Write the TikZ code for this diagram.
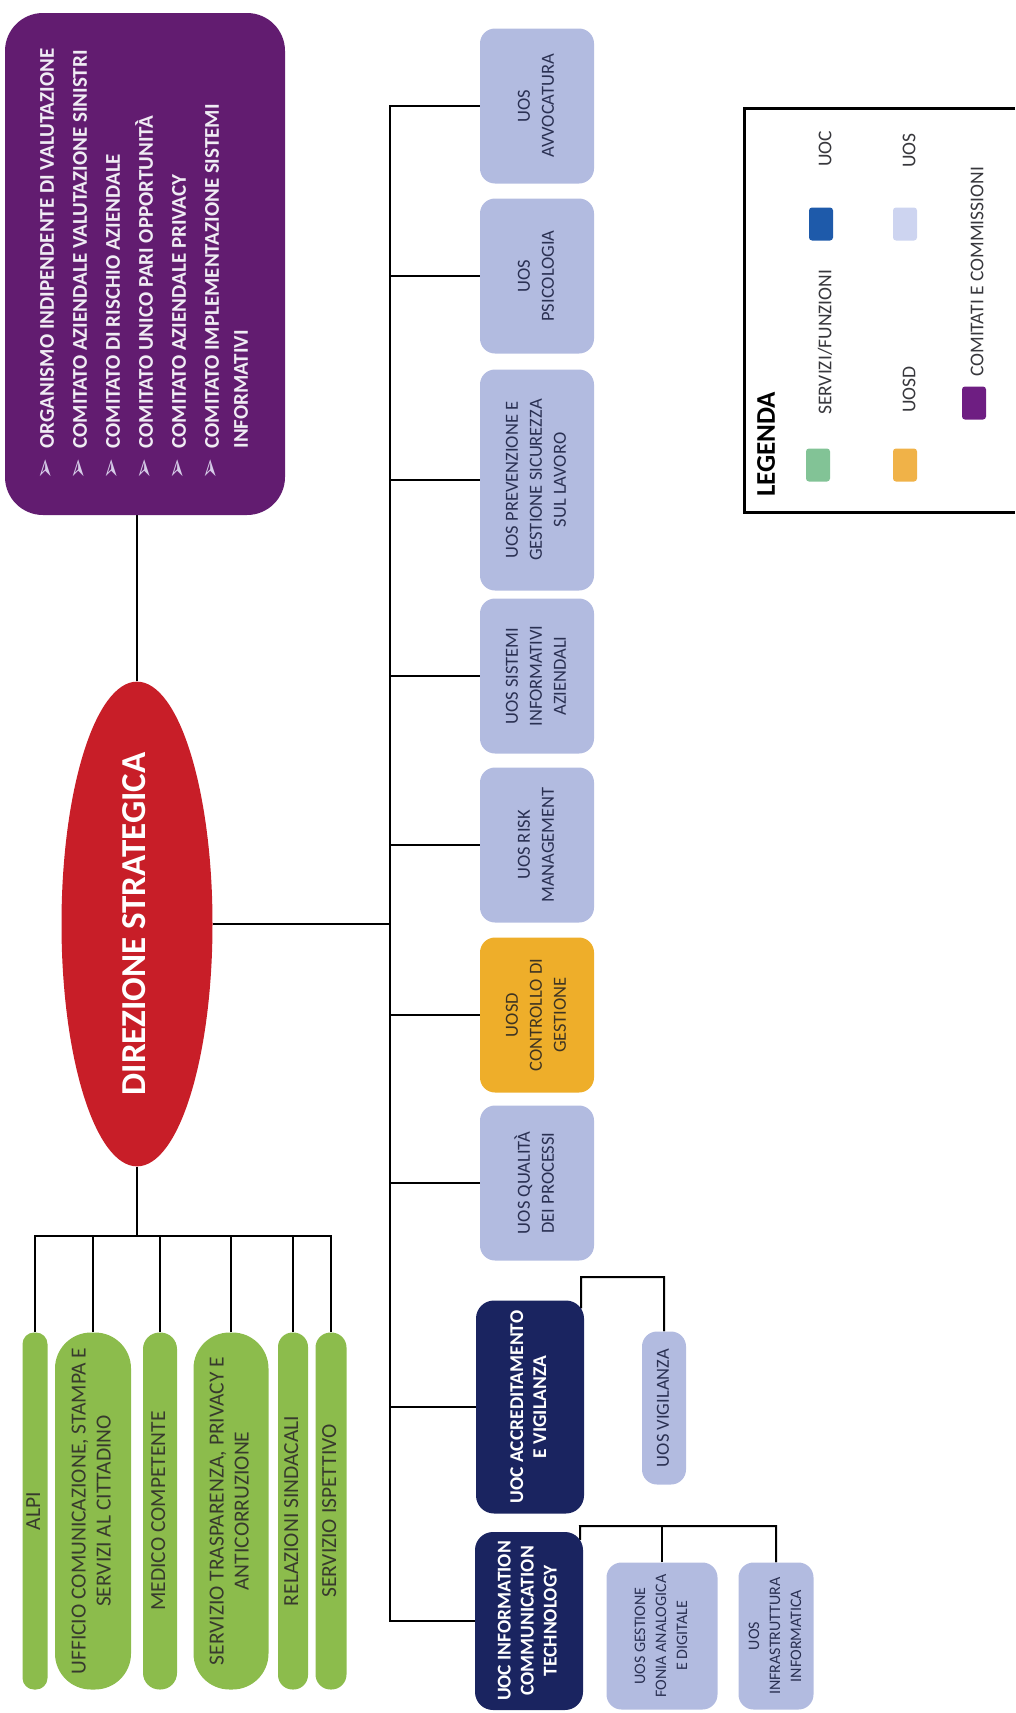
\documentclass[tikz,border=0pt]{standalone}
\usepackage{fontspec}
\setmainfont{Carlito}
\newfontfamily\symfont{DejaVu Sans}
\usepackage{graphicx}
\usetikzlibrary{positioning,shapes.geometric,backgrounds}

\definecolor{comvio}{RGB}{98,28,112}
\definecolor{comtxt}{RGB}{240,236,244}
\definecolor{bulcol}{RGB}{214,204,232}
\definecolor{dirred}{RGB}{200,30,40}
\definecolor{srvgreen}{RGB}{140,188,76}
\definecolor{gtxt}{RGB}{55,58,45}
\definecolor{uoslil}{RGB}{178,187,224}
\definecolor{uostxt}{RGB}{42,48,82}
\definecolor{uosdor}{RGB}{238,174,42}
\definecolor{uosdtxt}{RGB}{62,52,34}
\definecolor{uocnavy}{RGB}{26,36,96}
\definecolor{leggreen}{RGB}{130,195,150}
\definecolor{legblue}{RGB}{30,90,170}
\definecolor{legorange}{RGB}{240,178,72}
\definecolor{leglil}{RGB}{205,212,240}
\definecolor{legvio}{RGB}{110,30,130}
\definecolor{legtxt}{RGB}{55,55,60}

\newcommand{\vt}[1]{\rotatebox{90}{\begin{tabular}{@{}c@{}}#1\end{tabular}}}
\newcommand{\bul}{{\normalfont\symfont\fontsize{25}{25}\selectfont\color{bulcol}➢}}

\begin{document}
\begin{tikzpicture}[x=1pt, y=-1pt,
  conn/.style={line width=2.6pt},
  conn2/.style={line width=2pt},
  com/.style={rectangle, rounded corners=38pt, fill=comvio, inner sep=0pt, minimum width=280, minimum height=502, text=comtxt, font=\bfseries\fontsize{21}{29}\selectfont},
  dirs/.style={ellipse, fill=dirred, inner sep=0pt, minimum width=151, minimum height=478, text=white, font=\bfseries\fontsize{35}{40}\selectfont},
  gbar/.style={rectangle, rounded corners=#1, fill=srvgreen, inner sep=0pt, minimum height=357, text=gtxt, font=\fontsize{21.5}{25}\selectfont},
  gbar/.default=12pt,
  uos/.style={rectangle, rounded corners=15pt, fill=uoslil, inner sep=0pt, minimum width=114, minimum height=155, text=uostxt, font=\fontsize{18.5}{24}\selectfont},
  uosd/.style={uos, fill=uosdor, text=uosdtxt},
  uoc/.style={rectangle, rounded corners=18pt, fill=uocnavy, inner sep=0pt, minimum width=108, text=white, font=\bfseries\fontsize{19.5}{23}\selectfont},
  legsw/.style={rectangle, rounded corners=3pt, inner sep=0pt, minimum width=24, minimum height=33},
  leglab/.style={inner sep=0pt, anchor=south, text=legtxt, font=\fontsize{19.5}{22}\selectfont}]

\useasboundingbox (0,0) rectangle (1015,1713);

  % Define comitati and direzione
\node[com] (com) at (145,264) {\rotatebox{90}{\begin{tabular}{@{}l@{\hspace{10pt}}l@{}}
  \bul & ORGANISMO INDIPENDENTE DI VALUTAZIONE\\[4pt]
  \bul & COMITATO AZIENDALE VALUTAZIONE SINISTRI\\[4pt]
  \bul & COMITATO DI RISCHIO AZIENDALE\\[4pt]
  \bul & COMITATO UNICO PARI OPPORTUNITÀ\\[4pt]
  \bul & COMITATO AZIENDALE PRIVACY\\[4pt]
  \bul & COMITATO IMPLEMENTAZIONE SISTEMI\\
       & INFORMATIVI
\end{tabular}}};
\node[dirs] (dir) at (137,924) {\vt{DIREZIONE STRATEGICA}};

  % Define servizi / funzioni
\node[gbar=11.5pt, minimum width=24] (alpi) at (35,1511) {\vt{ALPI}}; \node[gbar=36pt, minimum width=76] (uff) at (93,1511) {\vt{UFFICIO COMUNICAZIONE, STAMPA E\\SERVIZI AL CITTADINO}}; \node[gbar=16.5pt, minimum width=34] (med) at (160,1511) {\vt{MEDICO COMPETENTE}};
\node[gbar=36pt, minimum width=75] (tra) at (231,1511) {\vt{SERVIZIO TRASPARENZA, PRIVACY E\\ANTICORRUZIONE}}; \node[gbar=14.5pt, minimum width=30] (rel) at (293,1511) {\vt{RELAZIONI SINDACALI}}; \node[gbar=15pt, minimum width=31] (isp) at (331,1511) {\vt{SERVIZIO ISPETTIVO}};

  % Define unita operative
\node[uos] (avv) at (537,106) {\vt{UOS\\AVVOCATURA}}; \node[uos] (psi) at (537,276) {\vt{UOS\\PSICOLOGIA}}; \node[uos, minimum height=221] (prev) at (537,480) {\vt{UOS PREVENZIONE E\\GESTIONE SICUREZZA\\SUL LAVORO}};
\node[uos] (sis) at (537,676) {\vt{UOS SISTEMI\\INFORMATIVI\\AZIENDALI}}; \node[uos] (risk) at (537,845) {\vt{UOS RISK\\MANAGEMENT}}; \node[uosd] (uosd) at (537,1015) {\vt{UOSD\\CONTROLLO DI\\GESTIONE}};
\node[uos] (qual) at (537,1183) {\vt{UOS QUALITÀ\\DEI PROCESSI}}; \node[uoc, minimum height=213] (acc) at (530,1407) {\vt{UOC ACCREDITAMENTO\\E VIGILANZA}}; \node[uoc, minimum height=178] (ict) at (529,1621) {\vt{UOC INFORMATION\\COMMUNICATION\\TECHNOLOGY}};
\node[uos, minimum width=44, minimum height=153] (vig) at (664,1408) {\vt{UOS VIGILANZA}}; \node[uos, minimum width=111, minimum height=147, font=\fontsize{16}{21}\selectfont] (fon) at (662,1636) {\vt{UOS GESTIONE\\FONIA ANALOGICA\\E DIGITALE}}; \node[uos, minimum width=75, minimum height=147, font=\fontsize{16}{21}\selectfont] (inf) at (776,1636) {\vt{UOS\\INFRASTRUTTURA\\INFORMATICA}};

  % Define legenda
\draw[line width=3pt] (1015,108) -- (744,108) -- (744,512) -- (1015,512);
\node[inner sep=0pt, anchor=south, font=\bfseries\fontsize{27}{29}\selectfont] (legt) at (769,497) {\vt{LEGENDA}};
\node[legsw, fill=leggreen] (swsrv) at (818,465) {}; \node[leglab] (lsrv) at (827,415) {\vt{SERVIZI/FUNZIONI}}; \node[legsw, fill=legblue] (swuoc) at (821,224) {}; \node[leglab] (luoc) at (827,167) {\vt{UOC}};
\node[legsw, fill=legorange] (swuosd) at (905,465) {}; \node[leglab] (luosd) at (911,413) {\vt{UOSD}}; \node[legsw, fill=leglil] (swuos) at (905,224) {}; \node[leglab] (luos) at (911,168) {\vt{UOS}};
\node[legsw, fill=legvio] (swcom) at (974,403) {}; \node[leglab] (lcom) at (979,377) {\vt{COMITATI E COMMISSIONI}};

  % Draw lines between nodes
\begin{scope}[on background layer]
\coordinate (mtop) at (390,106); \coordinate (gbus) at (35,1236); \coordinate (accup) at (581,1277); \coordinate (ictup) at (580,1526);
\draw[conn] (dir.north) -- (dir.north |- com.south); \draw[conn] (dir.east) -- (dir.east -| mtop);
\draw[conn] (avv.west) -- (avv.west -| mtop) -- (ict.west -| mtop) -- (ict.west);
\foreach \n in {psi,prev,sis,risk,uosd,qual,acc} \draw[conn] (\n.west) -- (\n.west -| mtop);
\draw[conn] (dir.south) -- (dir.south |- gbus); \draw[conn] (alpi.north) -- (alpi.north |- gbus) -- (isp.north |- gbus) -- (isp.north);
\foreach \n in {uff,med,tra,rel} \draw[conn] (\n.north) -- (\n.north |- gbus);
\draw[conn2] ([xshift=-3pt,yshift=-8pt]acc.north east) -- (accup) -- (vig.north |- accup) -- (vig.north);
\draw[conn2] ([xshift=-3pt,yshift=-8pt]ict.north east) -- (ictup) -- (inf.north |- ictup) -- (inf.north); \draw[conn2] (fon.north) -- (fon.north |- ictup);
\end{scope}

\end{tikzpicture}
\end{document}
